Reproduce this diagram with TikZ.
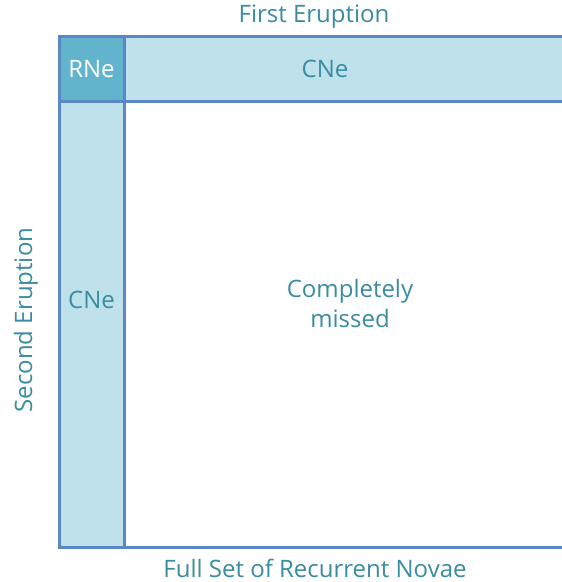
\documentclass[tikz,border=0pt]{standalone}
\usepackage{fontspec}
\setmainfont{Open Sans}
\definecolor{lineblue}{HTML}{5B87C5}
\definecolor{lightfill}{HTML}{BFE1EB}
\definecolor{darkfill}{HTML}{62B4CD}
\definecolor{txt}{HTML}{3A8CA0}
\begin{document}
\begin{tikzpicture}[x=1pt,y=-1pt,
  cell/.style={draw=lineblue,line width=3pt},
  lbl/.style={text=txt,font=\fontsize{24}{28}\selectfont,inner sep=0pt},
]
\useasboundingbox (0,0) rectangle (562,582);
\clip (0,0) rectangle (562,582);
\fill[white] (0,0) rectangle (562,582);
\path[cell,fill=lightfill] (124,36) rectangle (575,101);
\path[cell,fill=lightfill] (59,101) rectangle (124,547);
\path[cell] (124,101) rectangle (575,547);
\path[cell,fill=darkfill] (59,36) rectangle (124,101);
\node[lbl] (first) at (314,17) {First Eruption};
\node[lbl,text=white] (rne) at (91.5,69) {RNe};
\node[lbl] (cnetop) at (325,69) {CNe};
\node[lbl] (cneleft) at (91.5,300) {CNe};
\node[lbl,align=center,font=\fontsize{24}{30}\selectfont] (missed) at (350,303) {Completely\\missed};
\node[lbl,rotate=90] (second) at (26,320) {Second Eruption};
\node[lbl] (full) at (315,568) {Full Set of Recurrent Novae};
\end{tikzpicture}
\end{document}
